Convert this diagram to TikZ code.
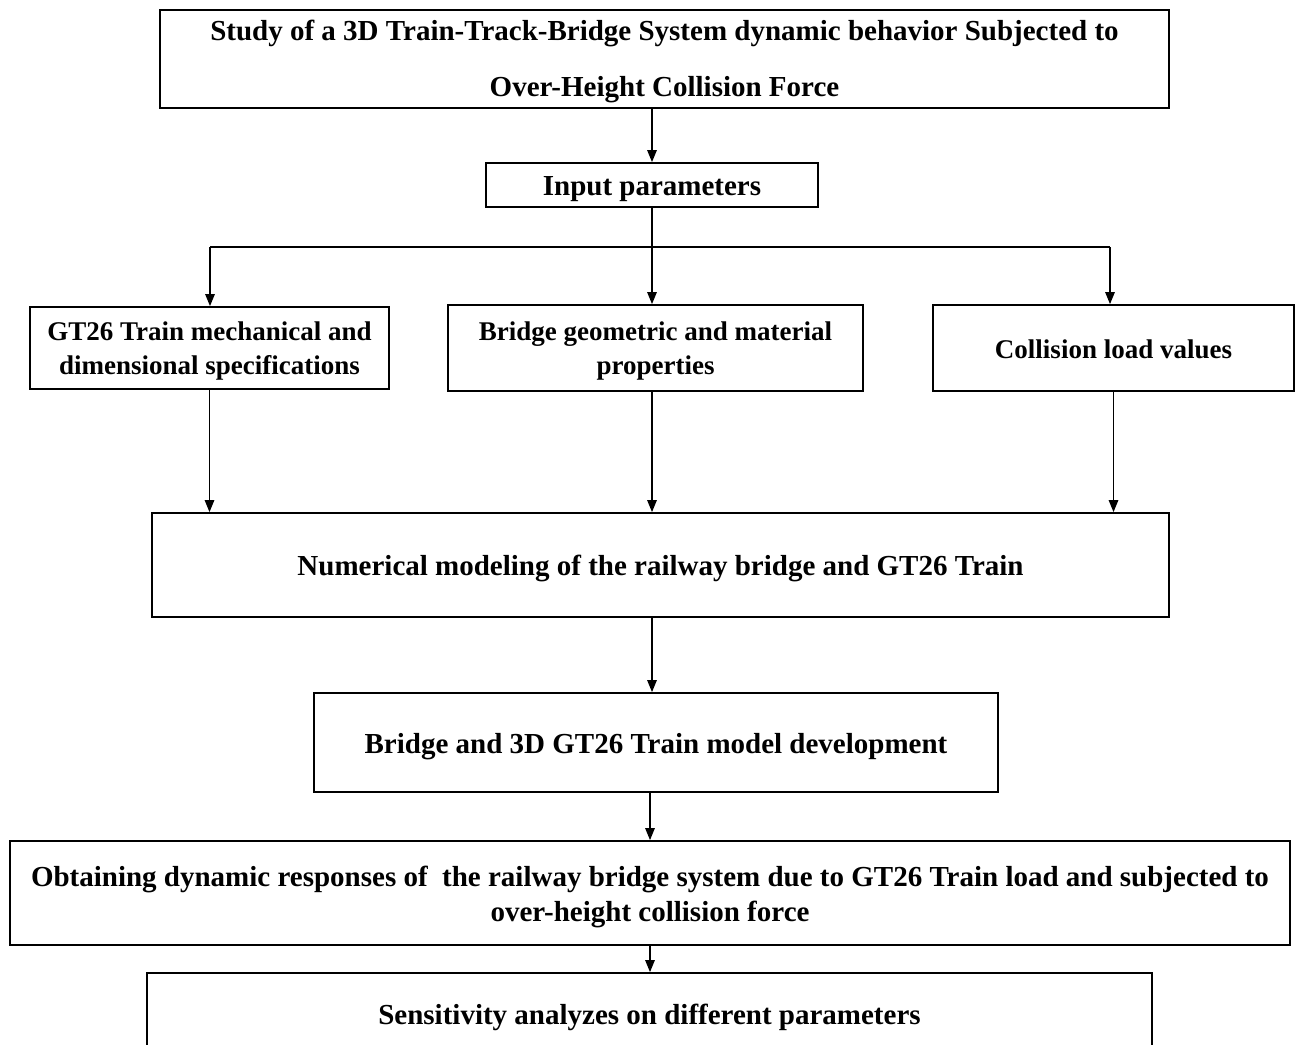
\documentclass[tikz,border=0pt]{standalone}
\usepackage{fontspec}
\setmainfont{Liberation Serif}
\usetikzlibrary{arrows.meta}
\begin{document}
\begin{tikzpicture}[x=1pt,y=-1pt,
  box/.style={draw=black,line width=1.8pt,inner sep=0pt,align=center,
    font=\fontsize{29}{35}\selectfont\bfseries},
  lift/.style={execute at begin node={\rule{0pt}{#1}}},
  rowbox/.style={box,font=\fontsize{27}{34}\selectfont\bfseries},
  arr/.style={line width=1.3pt,-{Triangle[length=12pt,width=9.5pt]}},
  ln/.style={line width=1.3pt}]
\clip (0,0) rectangle (1295,1044);
\fill[white] (0,0) rectangle (1295,1044);
\node[box,lift=82pt,minimum width=1009pt,minimum height=98pt,font=\fontsize{29}{56}\selectfont\bfseries] (title) at (664.5,59)
  {Study of a 3D Train-Track-Bridge System dynamic behavior Subjected to\\Over-Height Collision Force};
\node[box,lift=28pt,minimum width=332pt,minimum height=44pt] (input) at (652,185) {Input parameters};
\node[rowbox,lift=59pt,minimum width=359pt,minimum height=82pt] (A) at (209.5,348)
  {GT26 Train mechanical and\\dimensional specifications};
\node[rowbox,lift=59pt,minimum width=415pt,minimum height=86pt] (B) at (655.5,348)
  {Bridge geometric and material\\properties};
\node[rowbox,lift=21pt,minimum width=361pt,minimum height=86pt] (C) at (1113.5,348) {Collision load values};
\node[box,lift=28pt,minimum width=1017pt,minimum height=104pt] (num) at (660.5,565)
  {Numerical modeling of the railway bridge and GT26 Train};
\node[box,lift=28pt,minimum width=684pt,minimum height=99pt] (bridge) at (656,742.5)
  {Bridge and 3D GT26 Train model development};
\node[box,lift=63pt,minimum width=1280pt,minimum height=104pt] (obt) at (650,893)
  {Obtaining dynamic responses of\ \ the railway bridge system due to GT26 Train load and subjected to\\over-height collision force};
\node[box,lift=28pt,minimum width=1005pt,minimum height=82pt] (sens) at (649.5,1014)
  {Sensitivity analyzes on different parameters};
\coordinate (jl) at (210,247);
\coordinate (jr) at (1110,247);
\draw[arr] (input.north |- title.south) -- (input.north);
\draw[arr] (input.south) -- (input.south |- B.north);
\draw[ln] (jl) -- (jr);
\draw[arr] (jl) -- (jl |- A.north);
\draw[arr] (jr) -- (jr |- C.north);
\draw[arr] (A.south) -- (A.south |- num.north);
\draw[arr] (input.south |- B.south) -- (input.south |- num.north);
\draw[arr] (C.south) -- (C.south |- num.north);
\draw[arr] (input.south |- num.south) -- (input.south |- bridge.north);
\draw[arr] (obt.north |- bridge.south) -- (obt.north);
\draw[arr] (obt.south) -- (obt.south |- sens.north);
\end{tikzpicture}
\end{document}
